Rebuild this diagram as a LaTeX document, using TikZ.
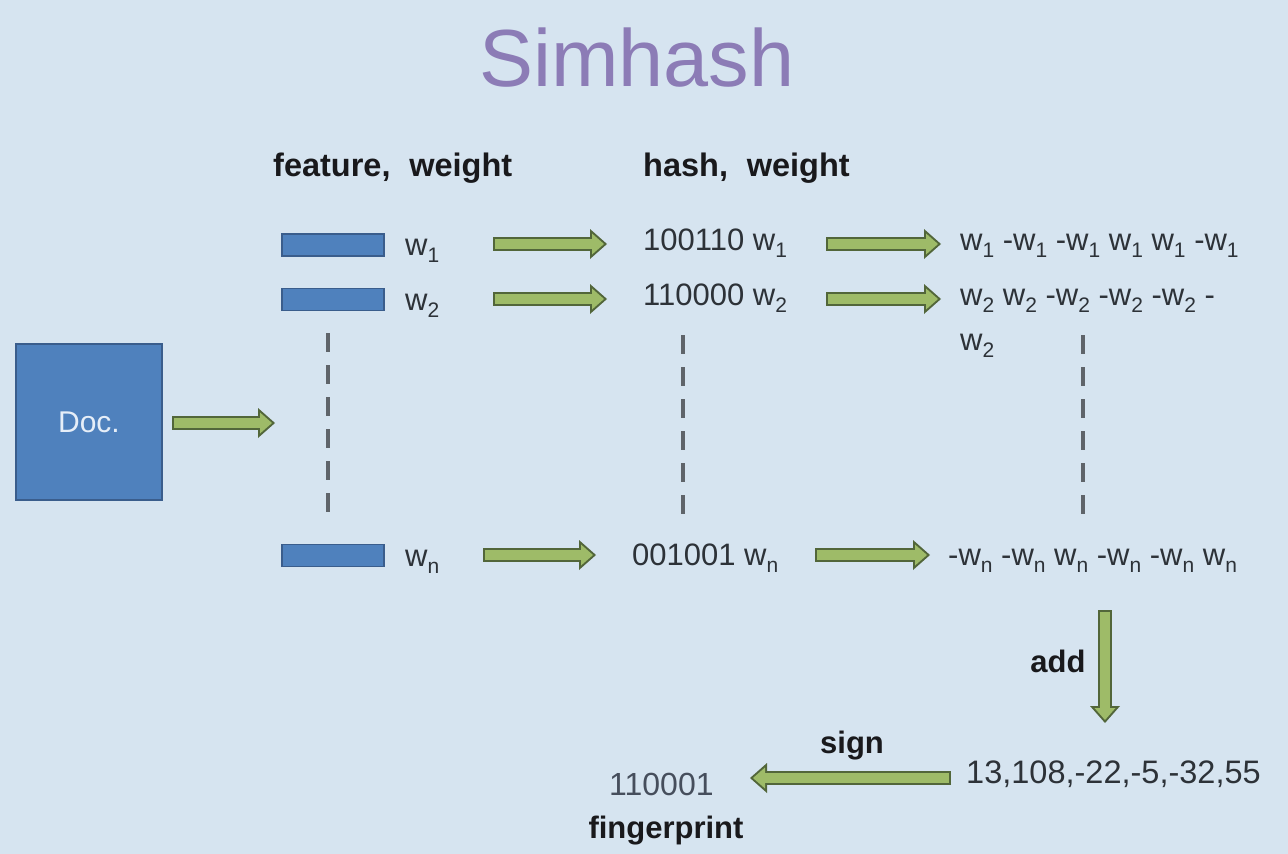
\documentclass[tikz,border=0pt]{standalone}
\usepackage{fontspec}
\setmainfont{Liberation Sans}
\usetikzlibrary{arrows.meta}
\definecolor{bg}{RGB}{214,228,240}
\definecolor{titlec}{RGB}{140,124,182}
\definecolor{boxfill}{RGB}{79,129,189}
\definecolor{boxline}{RGB}{58,93,140}
\definecolor{arrfill}{RGB}{158,187,104}
\definecolor{arrline}{RGB}{82,102,58}
\definecolor{txtc}{RGB}{45,50,56}
\definecolor{lblc}{RGB}{25,25,28}
\definecolor{dashc}{RGB}{95,100,106}
\newcommand{\ws}[1]{w\raisebox{-7pt}{\fontsize{21}{21}\selectfont #1}}
\newcommand{\garrow}[2]{\draw[arrout] (#1) -- (#2); \draw[arrin] (#1) -- (#2);}
\tikzset{
  arrout/.style={draw=arrline, line width=14pt, -{Triangle[width=30pt,length=17pt,line width=0pt]}},
  arrin/.style={draw=arrfill, line width=10pt, shorten <=2pt, shorten >=3pt, -{Triangle[width=21pt,length=12pt,line width=0pt]}},
  txt/.style={font=\fontsize{31}{37}\selectfont, text=txtc, inner sep=0pt, anchor=base west},
  lbl/.style={font=\fontsize{31}{37}\selectfont\bfseries, text=lblc, inner sep=0pt},
  bar/.style={draw=boxline, line width=1.5pt, fill=boxfill, minimum width=102pt, minimum height=22pt, inner sep=0pt},
  dashv/.style={draw=dashc, line width=3.5pt, dash pattern=on 19pt off 13pt},
}
\begin{document}
\begin{tikzpicture}[x=1pt,y=-1pt]
\fill[bg] (0,0) rectangle (1288,854);
\useasboundingbox (0,0) rectangle (1288,854);
% title
\node[font=\fontsize{81}{90}\selectfont, text=titlec, inner sep=0pt, anchor=base] (title) at (637,86) {Simhash};
\node[lbl, font=\fontsize{32.5}{38}\selectfont\bfseries, anchor=base west] (hfw) at (273,176) {feature,\hspace{0.3em} weight};
\node[lbl, font=\fontsize{32.5}{38}\selectfont\bfseries, anchor=base west] (hhw) at (643,176) {hash,\hspace{0.3em} weight};
% doc
\node[draw=boxline, line width=1.5pt, fill=boxfill, minimum width=146pt, minimum height=156pt, inner sep=0pt,
      font=\fontsize{30}{36}\selectfont, text={rgb,255:red,230;green,238;blue,248}] (doc) at (89,422) {Doc.};
% bars
\node[bar] (b1) at (333,245) {};
\node[bar] (b2) at (333,299.5) {};
\node[bar] (bn) at (333,555.5) {};
% labels
\node[txt] (l1) at (405,255) {\ws{1}};
\node[txt] (l2) at (405,310) {\ws{2}};
\node[txt] (ln) at (405,566) {\ws{n}};
\node[txt] (h1) at (643,250) {100110 \ws{1}};
\node[txt] (h2) at (643,305) {110000 \ws{2}};
\node[txt] (hn) at (632,565) {001001 \ws{n}};
\node[txt] (r1) at (960,250) {\ws{1} -\ws{1} -\ws{1} \ws{1} \ws{1} -\ws{1}};
\node[txt] (r2) at (960,305) {\ws{2} \ws{2} -\ws{2} -\ws{2} -\ws{2} -};
\node[txt] (r2b) at (960,350) {\ws{2}};
\node[txt] (rn) at (948,565) {-\ws{n} -\ws{n} \ws{n} -\ws{n} -\ws{n} \ws{n}};
\node[txt, font=\fontsize{32.5}{38}\selectfont] (sum) at (966,783) {13,108,-22,-5,-32,55};
\node[txt, font=\fontsize{32}{38}\selectfont, text={rgb,255:red,70;green,78;blue,92}] (fp) at (609,795) {110001};
\node[lbl, anchor=base] (fpl) at (666,838) {fingerprint};
\node[lbl, anchor=base] (sign) at (852,753) {sign};
\node[lbl, anchor=base] (add) at (1058,672) {add};
% arrow end coordinates
\coordinate (d0) at (172,423); \coordinate (d1) at (275,423);
\coordinate (a1s) at (493,244); \coordinate (a1e) at (607,244);
\coordinate (a2s) at (493,299); \coordinate (a2e) at (607,299);
\coordinate (ans) at (483,555); \coordinate (ane) at (596,555);
\coordinate (c1s) at (826,244); \coordinate (c1e) at (941,244);
\coordinate (c2s) at (826,299); \coordinate (c2e) at (941,299);
\coordinate (cns) at (815,555); \coordinate (cne) at (930,555);
\coordinate (dd0) at (1105,610); \coordinate (dd1) at (1105,723);
\coordinate (s0) at (951,778); \coordinate (s1) at (750,778);
\garrow{d0}{d1}
\garrow{a1s}{a1e}
\garrow{a2s}{a2e}
\garrow{ans}{ane}
\garrow{c1s}{c1e}
\garrow{c2s}{c2e}
\garrow{cns}{cne}
\garrow{dd0}{dd1}
\garrow{s0}{s1}
% dashed lines
\coordinate (v1a) at (328,333); \coordinate (v1b) at (328,516);
\coordinate (v2a) at (683,335); \coordinate (v2b) at (683,516);
\coordinate (v3a) at (1083,335); \coordinate (v3b) at (1083,516);
\draw[dashv] (v1a) -- (v1b);
\draw[dashv] (v2a) -- (v2b);
\draw[dashv] (v3a) -- (v3b);
\end{tikzpicture}
\end{document}
